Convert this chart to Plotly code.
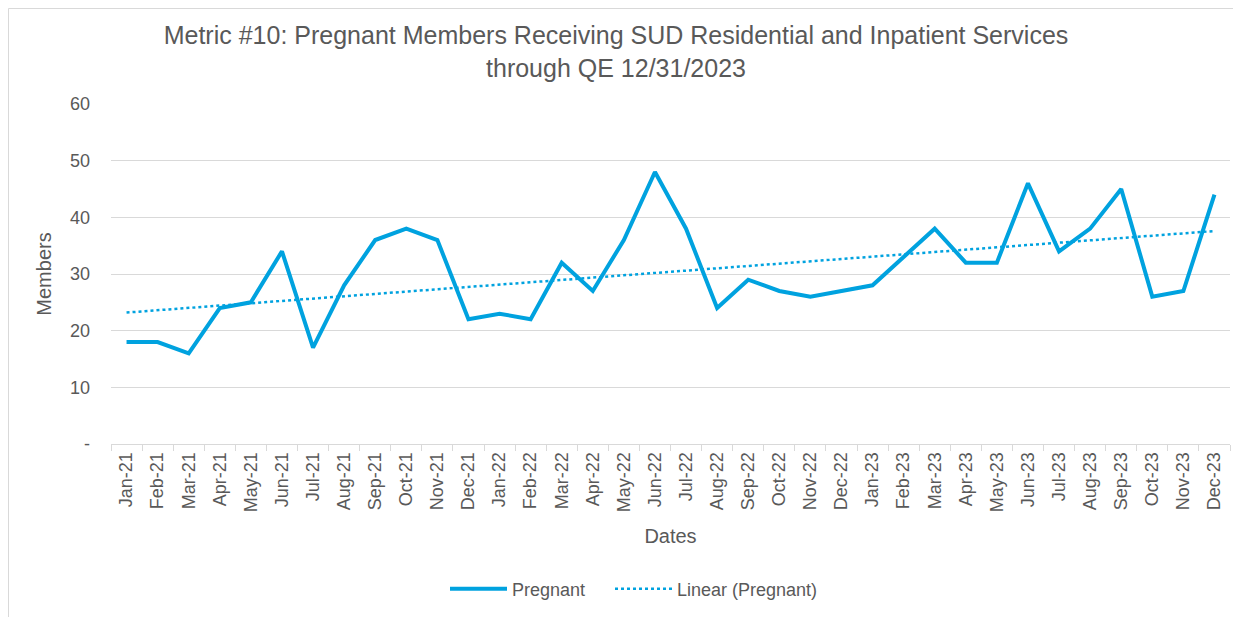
import numpy as np
import plotly.graph_objects as go

months = ["Jan-21","Feb-21","Mar-21","Apr-21","May-21","Jun-21","Jul-21","Aug-21","Sep-21","Oct-21","Nov-21","Dec-21",
          "Jan-22","Feb-22","Mar-22","Apr-22","May-22","Jun-22","Jul-22","Aug-22","Sep-22","Oct-22","Nov-22","Dec-22",
          "Jan-23","Feb-23","Mar-23","Apr-23","May-23","Jun-23","Jul-23","Aug-23","Sep-23","Oct-23","Nov-23","Dec-23"]
pregnant = [18, 18, 16, 24, 25, 34, 17, 28, 36, 38, 36, 22,
            23, 22, 32, 27, 36, 48, 38, 24, 29, 27, 26, 27,
            28, 33, 38, 32, 32, 46, 34, 38, 45, 26, 27, 44]
y_ticks = [0, 10, 20, 30, 40, 50, 60]
y_tick_labels = ["-", "10", "20", "30", "40", "50", "60"]

idx = np.arange(1, len(pregnant) + 1)
slope, intercept = np.polyfit(idx, pregnant, 1)
trend = slope * idx + intercept

BLUE = "#00A2DF"
TXT = "#595959"
GRID = "#D9D9D9"
FONT = "Liberation Sans, Arial, sans-serif"

fig = go.Figure()
fig.add_trace(go.Scatter(x=months, y=pregnant, mode="lines", name="Pregnant",
                         line=dict(color=BLUE, width=4), legend="legend"))
fig.add_trace(go.Scatter(x=months, y=trend, mode="lines", name="Linear (Pregnant)",
                         line=dict(color=BLUE, width=2.5, dash="dot"), legend="legend2"))

# page has an 8px body margin; figure coordinates = page - 8
W, H = 1233, 609
L, T = 103, 96
R = W - (1230 - 8)
B = H - (444 - 8)
pw, ph = W - L - R, H - T - B

def px_x(px):
    return (px - 8 - L) / pw

def px_y(py):
    return (H - B - (py - 8)) / ph

fig.add_shape(type="rect", xref="paper", yref="paper",
              x0=px_x(8.5), x1=px_x(1237), y0=px_y(640), y1=px_y(8.5),
              line=dict(color=GRID, width=1), fillcolor="rgba(0,0,0,0)", layer="below")

legend_common = dict(orientation="h", xanchor="left", y=px_y(589), yanchor="middle",
                     font=dict(size=18, color=TXT), itemwidth=57, bgcolor="rgba(0,0,0,0)")

fig.update_layout(
    width=W, height=H,
    margin=dict(l=L, r=R, t=T, b=B, autoexpand=False),
    paper_bgcolor="white", plot_bgcolor="white",
    font=dict(family=FONT, color=TXT, size=18),
    title=dict(text="Metric #10: Pregnant Members Receiving SUD Residential and Inpatient Services<br>through QE 12/31/2023",
               x=(616 - 8) / W, xanchor="center", y=1 - (44 - 8) / H, yanchor="middle",
               font=dict(size=25, color=TXT, family=FONT)),
    showlegend=True,
    legend=dict(x=px_x(450) - 5 / pw, **legend_common),
    legend2=dict(x=px_x(615) - 5 / pw, **legend_common),
    xaxis=dict(type="category", categoryorder="array", categoryarray=months,
               tickangle=-90, tickfont=dict(size=18, color=TXT),
               showgrid=False, showline=True, linecolor=GRID, linewidth=1,
               ticks="outside", tickson="boundaries", ticklen=6, tickcolor=GRID,
               title=dict(text="Dates", font=dict(size=20, color=TXT), standoff=17),
               range=[-0.5, len(months) - 0.5]),
    yaxis=dict(range=[0, 60], tickvals=y_ticks, ticktext=y_tick_labels,
               tickfont=dict(size=18, color=TXT), showgrid=True, gridcolor=GRID, gridwidth=1,
               zeroline=False, showline=False, ticks="", ticklabelstandoff=20,
               title=dict(text="Members", font=dict(size=20, color=TXT), standoff=12)),
)

fig.write_html("out.html")
